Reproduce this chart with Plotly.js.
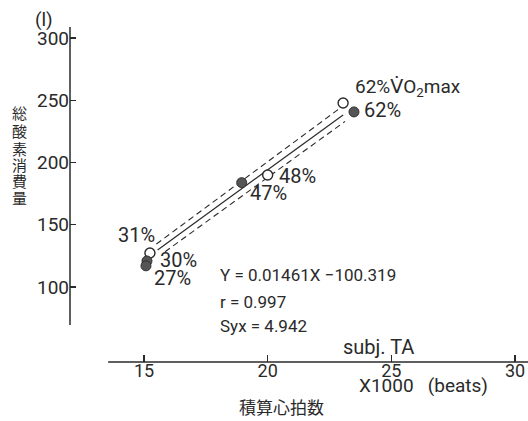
<!DOCTYPE html>
<html>
<head>
<meta charset="utf-8">
<script src="https://cdn.plot.ly/plotly-3.0.1.min.js"></script>
<style>html,body{margin:0;padding:0;background:#fff;}#chart{width:528px;height:421px;}</style>
</head>
<body>
<div id="chart"></div>
<script>
// Data (x: beats ×1000, y: litres)
const openX = [15.24, 20.0, 23.05];
const openY = [127.3, 190.0, 247.8];
const filledX = [15.12, 15.08, 18.95, 23.49];
const filledY = [120.9, 117.0, 183.8, 240.6];
const fitX = [15.55, 23.05];
const fitY = [129.7, 238.2];
const upperX = [15.5, 22.95];
const upperY = [134.5, 244.0];
const lowerX = [15.85, 23.13];
const lowerY = [128.3, 233.0];
const xTicks = [15, 20, 25, 30];
const yTicks = [100, 150, 200, 250, 300];
const yTitleChars = ['総', '酸', '素', '消', '費', '量'];
const yTitlePos = [0.7433, 0.6925, 0.6388, 0.5910, 0.5403, 0.4896];

const ink = '#2a2a2a';
const fnt = 'Roboto, "DejaVu Sans", sans-serif';
const jp = '"Noto Sans CJK JP", sans-serif';

const traces = [
  {x: upperX, y: upperY, mode: 'lines', line: {color: ink, width: 1.1, dash: '6px,4px'}, hoverinfo: 'skip'},
  {x: lowerX, y: lowerY, mode: 'lines', line: {color: ink, width: 1.1, dash: '6px,4px'}, hoverinfo: 'skip'},
  {x: fitX, y: fitY, mode: 'lines', line: {color: ink, width: 1.2}, hoverinfo: 'skip'},
  {x: openX, y: openY, mode: 'markers', marker: {symbol: 'circle', size: 10, color: '#fff', line: {color: ink, width: 1.4}}},
  {x: filledX, y: filledY, mode: 'markers', marker: {symbol: 'circle', size: 10, color: '#555', line: {color: '#333', width: 1}}}
];

function ann(text, x, y, xanchor, size) {
  return {text: text, x: x, y: y, xref: 'x', yref: 'y', xanchor: xanchor || 'left', yanchor: 'middle',
    showarrow: false, font: {family: fnt, size: size || 17, color: ink}};
}
function pann(text, x, y, xanchor, font) {
  return {text: text, x: x, y: y, xref: 'paper', yref: 'paper', xanchor: xanchor, yanchor: 'middle',
    showarrow: false, font: font || {family: fnt, size: 17, color: ink}};
}

const annotations = [
  ann('62%V\u0307O<sub>2</sub>max', 23.45, 260.6, 'left', 19),
  ann('62%', 23.82, 242.1, 'left', 20),
  ann('48%', 20.38, 189.1, 'left', 20),
  ann('47%', 19.21, 175.5, 'left', 20),
  ann('31%', 15.53, 141.8, 'right', 20),
  ann('30%', 15.57, 121.7, 'left', 20),
  ann('27%', 15.32, 107.2, 'left', 20),
  ann('Y = 0.01461X \u2212100.319', 17.99, 110.0),
  ann('r = 0.997', 17.99, 88.0),
  ann('Syx = 4.942', 17.99, 68.5),
  ann('subj. TA', 22.95, 52.0, 'left', 20),
  pann('X1000&nbsp;&nbsp;&nbsp;(beats)', 0.6266, -0.0687, 'left', {family: fnt, size: 19, color: ink}),
  pann('積算心拍数', 0.4607, -0.1343, 'center', {family: jp, size: 17, color: ink}),
  pann('(l)', -0.0568, 1.0209, 'center', {family: fnt, size: 19, color: ink})
];
yTitleChars.forEach((c, i) => annotations.push(pann(c, -0.1092, yTitlePos[i], 'center', {family: jp, size: 15, color: ink})));

const layout = {
  width: 528, height: 421,
  margin: {l: 70, r: 0, t: 27, b: 59, pad: 0},
  paper_bgcolor: '#fff', plot_bgcolor: 'rgba(0,0,0,0)',
  showlegend: false,
  xaxis: {range: [12.008, 30.526], showline: false, zeroline: false, showgrid: false,
    tickmode: 'array', tickvals: xTicks, ticks: 'inside', ticklen: 7, tickwidth: 1.3, tickcolor: ink,
    ticklabelstandoff: -4,
    tickfont: {family: fnt, size: 18, color: ink}},
  yaxis: {range: [39.76, 308.8], showline: false, zeroline: false, showgrid: false,
    tickmode: 'array', tickvals: yTicks, ticks: 'inside', ticklen: 6, tickwidth: 1.3, tickcolor: ink,
    tickfont: {family: fnt, size: 19, color: ink}},
  shapes: [
    {type: 'line', xref: 'paper', yref: 'y', x0: 0, x1: 0, y0: 69.5, y1: 308.8, line: {color: ink, width: 1.5}},
    {type: 'line', xref: 'x', yref: 'paper', x0: 13.55, x1: 30.526, y0: 0, y1: 0, line: {color: ink, width: 1.5}}
  ],
  annotations: annotations
};

Plotly.newPlot('chart', traces, layout, {staticPlot: true, displayModeBar: false});
</script>
</body>
</html>
